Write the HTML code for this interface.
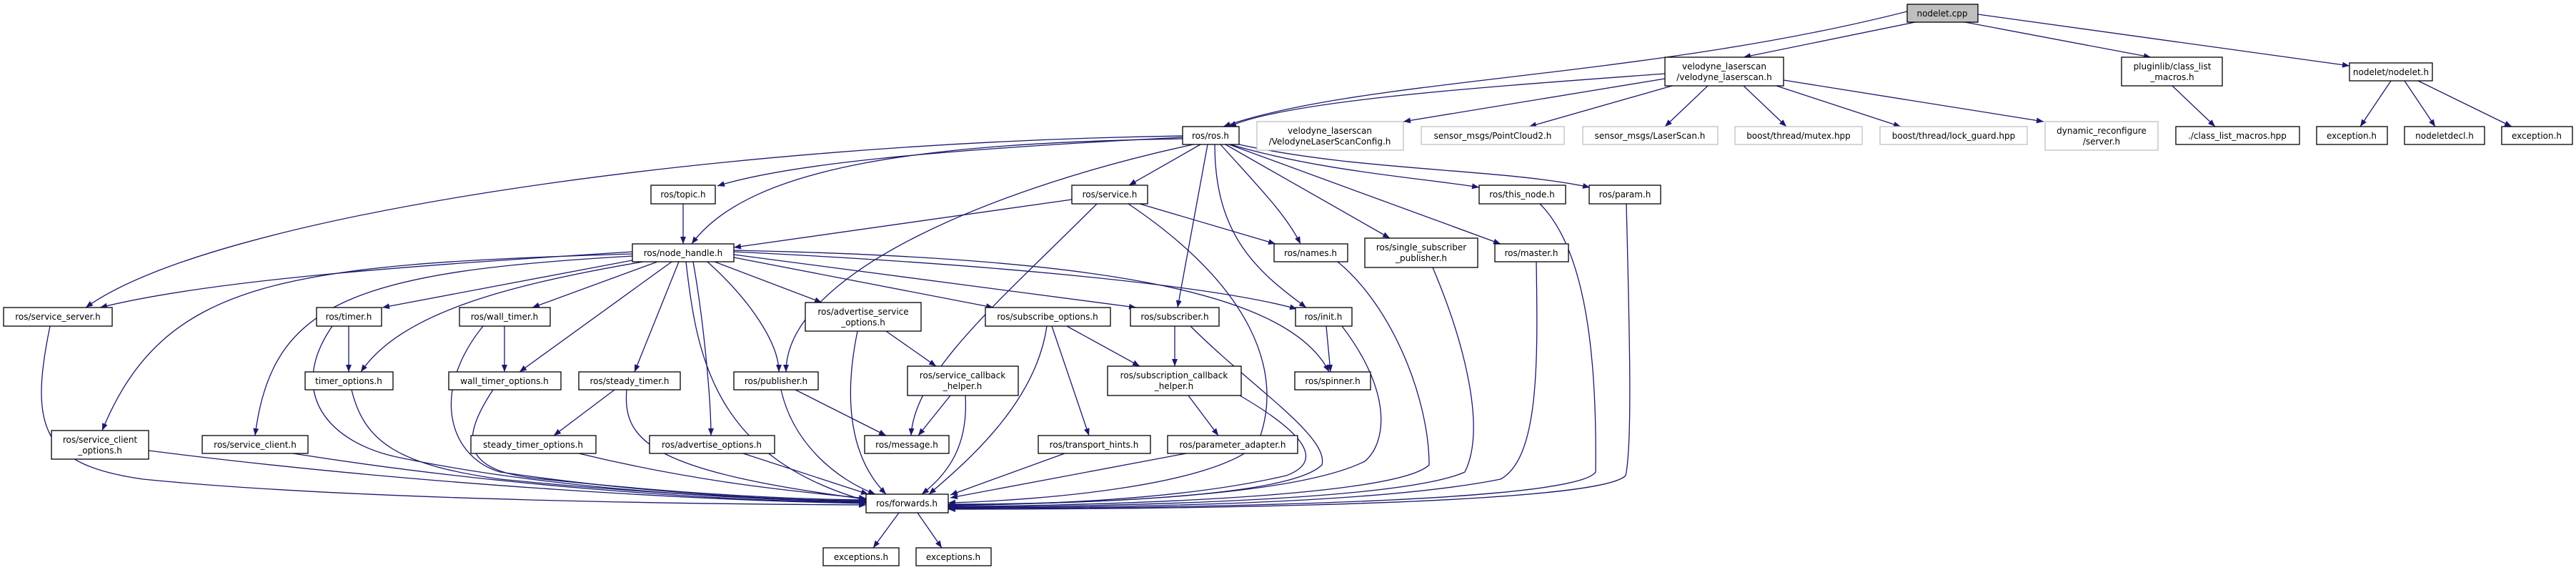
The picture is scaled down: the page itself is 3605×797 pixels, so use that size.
<!DOCTYPE html>
<html><head><meta charset="utf-8"><style>
html,body{margin:0;padding:0;background:#fff;}
svg{display:block;}
text{font-family:"DejaVu Sans","Liberation Sans",sans-serif;font-size:12px;fill:#000;text-anchor:middle;}
.e{fill:none;stroke:#191970;stroke-width:1.3;}
.n{fill:#fff;stroke:#000;stroke-width:1.3;}
.g{fill:#fff;stroke:#bfbfbf;stroke-width:1.3;}
</style></head><body>
<svg width="3605" height="797" viewBox="0 0 3605 797" xmlns="http://www.w3.org/2000/svg">
<defs><marker id="a" markerUnits="userSpaceOnUse" markerWidth="10" markerHeight="8" refX="10" refY="4" orient="auto"><path d="M0,0 L10,4 L0,8 z" fill="#191970"/></marker></defs>
<g class="e" marker-end="url(#a)">
<path d="M2680,31 L2440,80"/>
<path d="M2669,16 C2300,110 1900,110 1712,177"/>
<path d="M2750,31 L3010,80"/>
<path d="M2768,20 L3288,92"/>
<path d="M2330,103 C2100,120 1800,140 1720,177"/>
<path d="M2330,110 L1964,170"/>
<path d="M2340,120 L2140,177"/>
<path d="M2390,120 L2330,177"/>
<path d="M2440,120 L2500,177"/>
<path d="M2486,120 L2660,177"/>
<path d="M2496,112 L2860,170"/>
<path d="M3040,120 L3100,177"/>
<path d="M3346,113 L3303,177"/>
<path d="M3365,113 L3408,177"/>
<path d="M3384,113 L3515,177"/>
<path d="M1655,192 C1300,210 1100,230 1004,260"/>
<path d="M1655,194 C1300,200 1050,230 968,341"/>
<path d="M1655,190 C1000,200 300,300 120,430"/>
<path d="M1680,202 L1580,259"/>
<path d="M1670,202 C1400,260 1100,380 1100,520"/>
<path d="M1690,202 L1648,430"/>
<path d="M1700,202 C1700,330 1760,380 1828,430"/>
<path d="M1708,202 C1760,260 1800,300 1820,341"/>
<path d="M1715,202 L1945,333"/>
<path d="M1720,202 L2100,341"/>
<path d="M1722,202 C1850,240 2000,250 2070,262"/>
<path d="M1725,200 C1900,240 2100,235 2225,262"/>
<path d="M956,285 L956,341"/>
<path d="M1500,279 L1027,346"/>
<path d="M1535,285 C1400,420 1280,520 1275,609"/>
<path d="M1595,285 L1785,341"/>
<path d="M1579,285 C1750,400 1800,520 1760,620 C1700,680 1450,700 1327,703"/>
<path d="M885,352 C600,370 300,390 140,430"/>
<path d="M885,355 C400,370 230,390 143,602"/>
<path d="M885,358 C500,380 380,420 357,609"/>
<path d="M890,363 L535,430"/>
<path d="M900,366 C700,400 560,440 505,520"/>
<path d="M920,366 L745,430"/>
<path d="M940,366 L727,520"/>
<path d="M950,366 L888,520"/>
<path d="M960,366 C975,500 1000,640 1212,700"/>
<path d="M970,366 C985,450 995,560 995,609"/>
<path d="M990,366 C1050,420 1090,480 1090,520"/>
<path d="M1000,366 L1150,423"/>
<path d="M1027,360 L1390,430"/>
<path d="M1027,356 L1590,430"/>
<path d="M1027,352 C1400,370 1700,400 1815,432"/>
<path d="M1027,350 C1500,360 1800,400 1860,520"/>
<path d="M70,456 C40,600 60,650 200,670 C500,700 1000,705 1212,706"/>
<path d="M208,630 C600,680 1000,700 1212,704"/>
<path d="M410,634 C700,680 1000,700 1212,703"/>
<path d="M488,456 L488,520"/>
<path d="M465,456 C400,550 460,620 560,640 C800,690 1100,700 1212,702"/>
<path d="M492,545 C510,620 560,650 700,670 C900,690 1100,700 1212,701"/>
<path d="M706,456 L706,520"/>
<path d="M676,456 C600,550 630,640 700,660 C900,690 1100,700 1212,700"/>
<path d="M690,545 C640,620 650,660 760,670 C950,690 1100,698 1212,699"/>
<path d="M860,545 L775,609"/>
<path d="M877,545 C870,620 920,660 1212,698"/>
<path d="M810,634 C1000,680 1150,690 1212,697"/>
<path d="M1040,634 L1215,691"/>
<path d="M1093,545 C1110,620 1170,670 1225,691"/>
<path d="M1113,545 L1240,609"/>
<path d="M1240,463 L1310,512"/>
<path d="M1200,463 C1180,560 1190,640 1240,691"/>
<path d="M1330,553 L1285,609"/>
<path d="M1351,553 C1355,620 1330,660 1290,691"/>
<path d="M1493,456 L1595,512"/>
<path d="M1472,456 L1524,609"/>
<path d="M1465,456 C1450,560 1360,640 1300,691"/>
<path d="M1644,456 L1644,512"/>
<path d="M1666,456 C1750,540 1860,610 1850,650 C1800,700 1450,705 1327,705"/>
<path d="M1856,456 L1862,520"/>
<path d="M1878,456 C1950,550 1940,620 1910,645 C1800,700 1450,705 1327,706"/>
<path d="M1663,553 L1705,609"/>
<path d="M1735,553 C1850,620 1840,650 1800,665 C1650,700 1450,705 1327,707"/>
<path d="M1490,634 L1330,692"/>
<path d="M1660,634 L1330,696"/>
<path d="M1872,366 C1950,430 2000,560 2000,650 C1950,700 1450,708 1327,708"/>
<path d="M2005,374 C2050,480 2080,600 2050,660 C1950,705 1450,709 1327,709"/>
<path d="M2150,366 C2152,500 2155,640 2100,670 C1900,710 1450,710 1327,710"/>
<path d="M2155,285 C2220,350 2235,500 2233,660 C2200,710 1450,711 1327,711"/>
<path d="M2276,285 C2280,450 2285,620 2275,665 C2230,712 1450,712 1327,712"/>
<path d="M1258,717 L1222,766"/>
<path d="M1284,717 L1318,766"/>
</g>
<!-- nodes -->
<rect x="2669" y="6" width="99" height="25" fill="#bfbfbf" stroke="#000" stroke-width="1.3"/><text x="2718" y="23">nodelet.cpp</text>
<rect class="n" x="2330" y="80" width="166" height="40"/><text x="2413" y="97">velodyne_laserscan</text><text x="2413" y="112">/velodyne_laserscan.h</text>
<rect class="n" x="2969" y="80" width="141" height="40"/><text x="3040" y="97">pluginlib/class_list</text><text x="3040" y="112">_macros.h</text>
<rect class="n" x="3288" y="88" width="116" height="25"/><text x="3346" y="105">nodelet/nodelet.h</text>
<rect class="n" x="3045" y="177" width="173" height="25"/><text x="3131" y="194">./class_list_macros.hpp</text>
<rect class="n" x="3242" y="177" width="99" height="25"/><text x="3291" y="194">exception.h</text>
<rect class="n" x="3365" y="177" width="112" height="25"/><text x="3421" y="194">nodeletdecl.h</text>
<rect class="n" x="3501" y="177" width="99" height="25"/><text x="3550" y="194">exception.h</text>
<rect class="g" x="2862" y="170" width="158" height="40"/><text x="2941" y="187">dynamic_reconfigure</text><text x="2941" y="202">/server.h</text>
<rect class="g" x="2631" y="177" width="206" height="25"/><text x="2734" y="194">boost/thread/lock_guard.hpp</text>
<rect class="g" x="2428" y="177" width="178" height="25"/><text x="2517" y="194">boost/thread/mutex.hpp</text>
<rect class="g" x="2215" y="177" width="189" height="25"/><text x="2309" y="194">sensor_msgs/LaserScan.h</text>
<rect class="g" x="1989" y="177" width="200" height="25"/><text x="2089" y="194">sensor_msgs/PointCloud2.h</text>
<rect class="g" x="1759" y="170" width="205" height="40"/><text x="1861" y="187">velodyne_laserscan</text><text x="1861" y="202">/VelodyneLaserScanConfig.h</text>
<rect class="n" x="1655" y="177" width="79" height="25"/><text x="1694" y="194">ros/ros.h</text>
<rect class="n" x="2070" y="259" width="121" height="26"/><text x="2130" y="276">ros/this_node.h</text>
<rect class="n" x="2224" y="259" width="100" height="26"/><text x="2274" y="276">ros/param.h</text>
<rect class="n" x="911" y="259" width="90" height="26"/><text x="956" y="276">ros/topic.h</text>
<rect class="n" x="1500" y="259" width="106" height="26"/><text x="1553" y="276">ros/service.h</text>
<rect class="n" x="885" y="341" width="142" height="25"/><text x="956" y="358">ros/node_handle.h</text>
<rect class="n" x="1783" y="341" width="103" height="25"/><text x="1834" y="358">ros/names.h</text>
<rect class="n" x="1910" y="333" width="158" height="41"/><text x="1989" y="350">ros/single_subscriber</text><text x="1989" y="365">_publisher.h</text>
<rect class="n" x="2092" y="341" width="103" height="25"/><text x="2143" y="358">ros/master.h</text>
<rect class="n" x="5" y="430" width="152" height="26"/><text x="81" y="447">ros/service_server.h</text>
<rect class="n" x="443" y="430" width="91" height="26"/><text x="488" y="447">ros/timer.h</text>
<rect class="n" x="643" y="430" width="127" height="26"/><text x="706" y="447">ros/wall_timer.h</text>
<rect class="n" x="1127" y="423" width="162" height="40"/><text x="1208" y="440">ros/advertise_service</text><text x="1208" y="455">_options.h</text>
<rect class="n" x="1379" y="430" width="175" height="26"/><text x="1466" y="447">ros/subscribe_options.h</text>
<rect class="n" x="1582" y="430" width="124" height="26"/><text x="1644" y="447">ros/subscriber.h</text>
<rect class="n" x="1813" y="430" width="79" height="26"/><text x="1852" y="447">ros/init.h</text>
<rect class="n" x="427" y="520" width="123" height="25"/><text x="488" y="537">timer_options.h</text>
<rect class="n" x="628" y="520" width="157" height="25"/><text x="706" y="537">wall_timer_options.h</text>
<rect class="n" x="810" y="520" width="142" height="25"/><text x="881" y="537">ros/steady_timer.h</text>
<rect class="n" x="1027" y="520" width="118" height="25"/><text x="1086" y="537">ros/publisher.h</text>
<rect class="n" x="1270" y="512" width="155" height="41"/><text x="1347" y="529">ros/service_callback</text><text x="1347" y="544">_helper.h</text>
<rect class="n" x="1550" y="512" width="187" height="41"/><text x="1643" y="529">ros/subscription_callback</text><text x="1643" y="544">_helper.h</text>
<rect class="n" x="1812" y="520" width="106" height="25"/><text x="1865" y="537">ros/spinner.h</text>
<rect class="n" x="72" y="602" width="136" height="40"/><text x="140" y="619">ros/service_client</text><text x="140" y="634">_options.h</text>
<rect class="n" x="283" y="609" width="148" height="25"/><text x="357" y="626">ros/service_client.h</text>
<rect class="n" x="659" y="609" width="175" height="25"/><text x="746" y="626">steady_timer_options.h</text>
<rect class="n" x="909" y="609" width="175" height="25"/><text x="996" y="626">ros/advertise_options.h</text>
<rect class="n" x="1210" y="609" width="118" height="25"/><text x="1269" y="626">ros/message.h</text>
<rect class="n" x="1453" y="609" width="157" height="25"/><text x="1531" y="626">ros/transport_hints.h</text>
<rect class="n" x="1634" y="609" width="182" height="25"/><text x="1725" y="626">ros/parameter_adapter.h</text>
<rect class="n" x="1212" y="691" width="115" height="26"/><text x="1269" y="708">ros/forwards.h</text>
<rect class="n" x="1152" y="766" width="106" height="25"/><text x="1205" y="783">exceptions.h</text>
<rect class="n" x="1282" y="766" width="105" height="25"/><text x="1334" y="783">exceptions.h</text>
</svg>
</body></html>
